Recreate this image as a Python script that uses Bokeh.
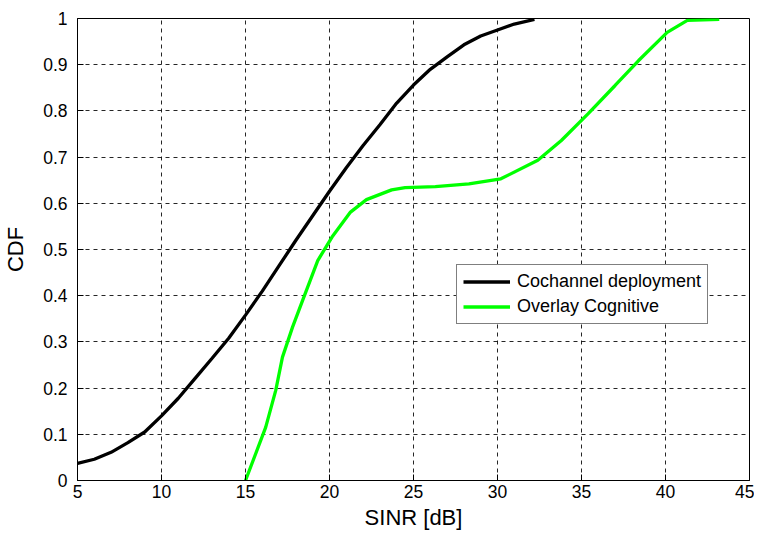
from bokeh.plotting import figure
from bokeh.models import Range1d, FixedTicker, Legend, LegendItem
from bokeh.embed import file_html
from bokeh.resources import INLINE

# Data
cochannel_x = [5, 6, 7, 8, 9, 10, 11, 12, 13, 14, 15, 16, 17, 18, 19, 20, 21, 22, 23,
               24, 25, 26, 27, 28, 29, 30, 31, 32.2]
cochannel_y = [0.037, 0.046, 0.061, 0.082, 0.105, 0.14, 0.178, 0.221, 0.264, 0.308, 0.358, 0.41,
               0.465, 0.52, 0.573, 0.626, 0.677, 0.725, 0.77, 0.817, 0.856, 0.89, 0.917, 0.943,
               0.962, 0.975, 0.988, 0.998]

overlay_x = [15, 16.2, 16.8, 17.2, 17.8, 18.4, 19.3, 20.15, 21.25, 22.2, 23.7, 24.5, 26.3,
             28.3, 30.2, 32.4, 33.8, 35.4, 37.0, 38.4, 40.1, 41.3, 43.2]
overlay_y = [0.0, 0.115, 0.195, 0.267, 0.332, 0.39, 0.476, 0.527, 0.581, 0.608, 0.629,
             0.634, 0.636, 0.642, 0.653, 0.693, 0.736, 0.794, 0.855, 0.909, 0.97, 0.996, 0.998]

x_ticks = [5, 10, 15, 20, 25, 30, 35, 40, 45]
y_ticks = [0, 0.1, 0.2, 0.3, 0.4, 0.5, 0.6, 0.7, 0.8, 0.9, 1]
y_tick_labels = ["0", "0.1", "0.2", "0.3", "0.4", "0.5", "0.6", "0.7", "0.8", "0.9", "1"]

FONT = "Liberation Sans"

p = figure(width=754, height=534, output_backend="svg", toolbar_location=None,
           x_range=Range1d(5, 45), y_range=Range1d(0, 1),
           min_border_left=74, min_border_right=5, min_border_top=18, min_border_bottom=54)

p.outline_line_color = "black"
p.outline_line_width = 1
p.background_fill_color = "white"
p.border_fill_color = "white"

for ax in (p.xaxis[0], p.yaxis[0]):
    ax.axis_line_color = "black"
    ax.major_tick_in = 6
    ax.major_tick_out = 0
    ax.minor_tick_line_color = None
    ax.major_tick_line_color = "black"
    ax.major_label_text_font = FONT
    ax.major_label_text_font_size = "17.5px"
    ax.major_label_text_color = "black"
    ax.axis_label_text_font = FONT
    ax.axis_label_text_font_size = "22px"
    ax.axis_label_text_font_style = "normal"
    ax.axis_label_text_color = "black"

p.xaxis.ticker = FixedTicker(ticks=x_ticks)
p.yaxis.ticker = FixedTicker(ticks=y_ticks)
p.yaxis.major_label_overrides = {t: l for t, l in zip(y_ticks, y_tick_labels)}
p.xaxis.axis_label = "SINR [dB]"
p.yaxis.axis_label = "CDF"
p.xaxis.major_label_standoff = 4
p.yaxis.major_label_standoff = 10
p.xaxis.axis_label_standoff = 4
p.yaxis.axis_label_standoff = 12

for g in (p.xgrid[0], p.ygrid[0]):
    g.grid_line_color = "black"
    g.grid_line_dash = "4 4"
    g.grid_line_width = 1
    g.grid_line_alpha = 0.85

r1 = p.line(cochannel_x, cochannel_y, line_color="black", line_width=3.3)
r2 = p.line(overlay_x, overlay_y, line_color="#00ff00", line_width=3.3)

legend = Legend(items=[LegendItem(label="Cochannel deployment", renderers=[r1]),
                       LegendItem(label="Overlay Cognitive", renderers=[r2])],
                location=(379, 156))
legend.border_line_color = "black"
legend.border_line_width = 1
legend.background_fill_color = "white"
legend.background_fill_alpha = 1
legend.label_text_font = FONT
legend.label_text_font_size = "18px"
legend.label_text_color = "black"
legend.glyph_width = 47
legend.glyph_height = 21
legend.label_height = 21
legend.spacing = 4
legend.padding = 6
legend.margin = 0
legend.label_standoff = 7
p.add_layout(legend, "center")

open("out.html", "w").write(file_html(p, INLINE))
